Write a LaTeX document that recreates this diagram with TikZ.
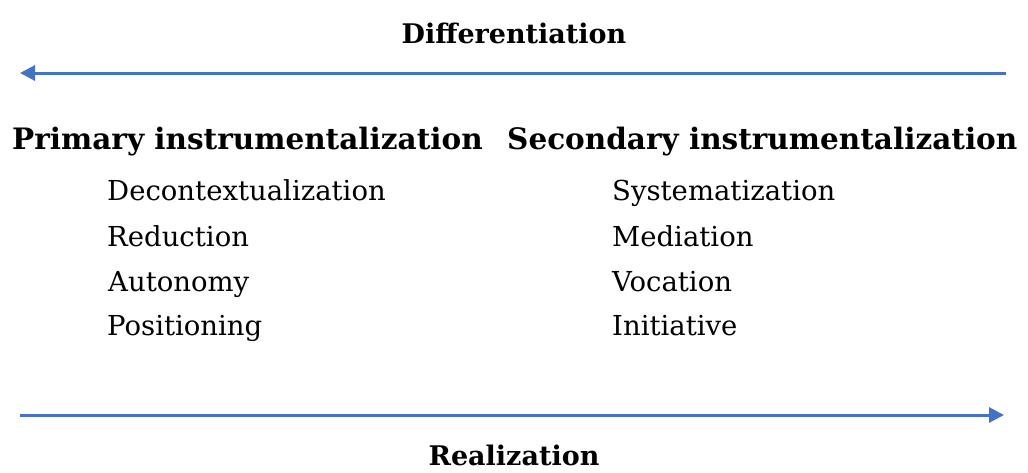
\documentclass[tikz,border=0pt]{standalone}
\usepackage{fontspec}
\setmainfont{DejaVu Serif}
\usetikzlibrary{arrows.meta}
\definecolor{arrowblue}{HTML}{4472C4}
\begin{document}
\begin{tikzpicture}[x=1pt,y=-1pt,
  title/.style={font=\fontsize{27}{32}\selectfont\bfseries, inner sep=0pt, anchor=base},
  head/.style={font=\fontsize{29.5}{34}\selectfont\bfseries, inner sep=0pt, anchor=base west},
  item/.style={font=\fontsize{27.5}{32}\selectfont, inner sep=0pt, anchor=base west},
  flow/.style={draw=arrowblue, line width=3pt, -{Triangle[length=15pt,width=15pt]}},
]
\useasboundingbox (0,0) rectangle (1028,472);

% top: differentiation runs right to left
\node[title] (diff) at (514,43) {Differentiation};
\coordinate (dstart) at (1006,73);
\coordinate (dend) at (20,73);
\draw[flow] (dstart) -- (dend);

% column headings
\node[head] (prim) at (12,149) {Primary instrumentalization};
\node[head] (sec) at (507,149) {Secondary instrumentalization};

% primary column
\node[item] (p1) at (107,200) {Decontextualization};
\node[item] (p2) at (107,246) {Reduction};
\node[item] (p3) at (108,291) {Autonomy};
\node[item] (p4) at (107,335) {Positioning};

% secondary column
\node[item] (s1) at (612,200) {Systematization};
\node[item] (s2) at (612,246) {Mediation};
\node[item] (s3) at (612,291) {Vocation};
\node[item] (s4) at (612,335) {Initiative};

% bottom: realization runs left to right
\coordinate (rstart) at (20,415);
\coordinate (rend) at (1004,415);
\draw[flow] (rstart) -- (rend);
\node[title] (real) at (514,465) {Realization};
\end{tikzpicture}
\end{document}
